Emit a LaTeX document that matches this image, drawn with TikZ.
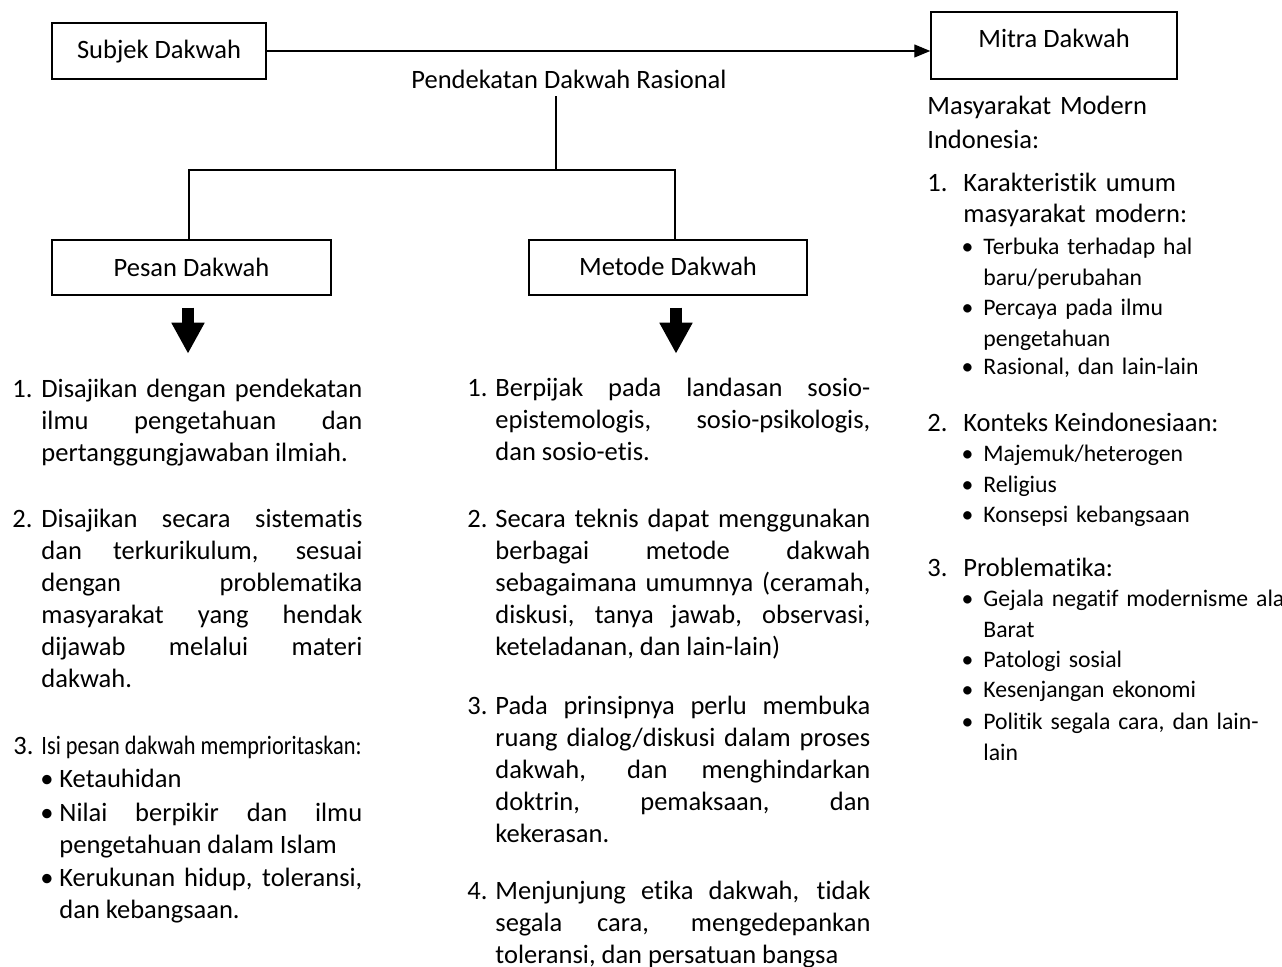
\documentclass[tikz,border=0pt]{standalone}
\usepackage{fontspec}
\setmainfont{Carlito}[Ligatures={TeX,NoCommon}]
\usepackage{graphicx}
\usetikzlibrary{arrows.meta, positioning, calc}
\newcommand{\bigtext}{\fontsize{13.25pt}{16pt}\selectfont}
\newcommand{\smalltext}{\fontsize{11.85pt}{15.25pt}\selectfont}
\tolerance=10000
\hyphenpenalty=10000
\hbadness=10000
\tikzstyle{box} = [rectangle, draw=black, line width=0.75pt, inner sep=0pt, font=\bigtext]
\tikzstyle{arrow} = [line width=0.6pt, -{Triangle[length=8pt,width=6.5pt]}]
\tikzstyle{line} = [line width=0.6pt]
\tikzstyle{blockarrow} = [line width=6pt, -{Triangle[length=15.5pt,width=15.5pt]}]
\tikzstyle{item} = [anchor=base west, inner sep=0pt, align=justify, font=\bigtext]
\tikzstyle{num} = [anchor=base west, inner sep=0pt, font=\bigtext]
\tikzstyle{dot} = [anchor=base, inner sep=0pt]
\tikzstyle{sub} = [anchor=base west, inner sep=0pt, align=left, text width=170pt, font=\smalltext]

\begin{document}
\begin{tikzpicture}[x=0.5pt, y=-0.5pt]
    \useasboundingbox (0,0) rectangle (1282,967);

    % top row
    \node (subjek) [box, minimum width=107pt, text height=18pt, text depth=10pt] at (159,51) {Subjek Dakwah};
    \node (mitra) [box, minimum width=123pt, text height=18pt, text depth=15.5pt] at (1054,45.5) {Mitra Dakwah};
    \node (pdr) [anchor=base, font=\bigtext] at (569,89) {Pendekatan Dakwah Rasional};

    \draw [arrow] (subjek.east) -- (subjek.east -| mitra.west);

    % second row
    \node (pesan) [box, minimum width=139.5pt, text height=18.5pt, text depth=9pt] at (191.5,267.5) {Pesan Dakwah};
    \node (metode) [box, minimum width=139pt, text height=18pt, text depth=9.5pt] at (668,267.5) {Metode Dakwah};

    \coordinate (split) at (556,170);
    \draw [line] (pdr.south -| split) -- (split);
    \draw [line] ([xshift=-1.25pt]pesan.north) |- (split) -| ([xshift=3.5pt]metode.north);

    \draw [blockarrow] ([xshift=-1.75pt,yshift=-6pt]pesan.south) -- ++(0,46);
    \draw [blockarrow] ([xshift=4pt,yshift=-6pt]metode.south) -- ++(0,46);

    % Pesan Dakwah
    \node (pn1) [num] at (12,398) {1.};
    \node (pt1) [item, text width=160.5pt] at (41,398) {Disajikan dengan pendekatan\linebreak ilmu pengetahuan dan\linebreak pertanggungjawaban ilmiah.};
    \node (pn2) [num] at (12,528) {2.};
    \node (pt2) [item, text width=160.5pt] at (41,528) {Disajikan secara sistematis\linebreak dan terkurikulum, sesuai\linebreak dengan problematika\linebreak masyarakat yang hendak\linebreak dijawab melalui materi\linebreak dakwah.};
    \node (pn3) [num] at (13,755) {3.};
    \node (pt3) [item] at (41,755) {\scalebox{0.8425}[1]{Isi pesan dakwah memprioritaskan:}};
    \node (pd1) [dot, font=\bigtext] at (47,788) {\textbullet};
    \node (pb1) [item, text width=151.5pt] at (59,788) {Ketauhidan};
    \node (pd2) [dot, font=\bigtext] at (47,822) {\textbullet};
    \node (pb2) [item, text width=151.5pt] at (59,822) {Nilai berpikir dan ilmu\linebreak pengetahuan dalam Islam};
    \node (pd3) [dot, font=\bigtext] at (47,887) {\textbullet};
    \node (pb3) [item, text width=151.5pt] at (59,887) {Kerukunan hidup, toleransi,\linebreak dan kebangsaan.};

    % Metode Dakwah
    \node (mn1) [num] at (467,397) {1.};
    \node (mt1) [item, text width=187.5pt] at (495,397) {Berpijak pada landasan sosio-\linebreak epistemologis, sosio-psikologis,\linebreak dan sosio-etis.};
    \node (mn2) [num] at (467,528) {2.};
    \node (mt2) [item, text width=187.5pt] at (495,528) {Secara teknis dapat menggunakan\linebreak berbagai metode dakwah\linebreak sebagaimana umumnya (ceramah,\linebreak diskusi, tanya jawab, observasi,\linebreak keteladanan, dan lain-lain)};
    \node (mn3) [num] at (467,715) {3.};
    \node (mt3) [item, text width=187.5pt] at (495,715) {Pada prinsipnya perlu membuka\linebreak ruang dialog/diskusi dalam proses\linebreak dakwah, dan menghindarkan\linebreak doktrin, pemaksaan, dan\linebreak kekerasan.};
    \node (mn4) [num] at (467,900) {4.};
    \node (mt4) [item, text width=187.5pt] at (495,900) {Menjunjung etika dakwah, tidak\linebreak segala cara, mengedepankan\linebreak toleransi, dan persatuan bangsa};

    % Mitra Dakwah
    \node (masy) [item, align=left, text width=170pt, font=\fontsize{13.25pt}{17pt}\selectfont] at (927,115) {Masyarakat Modern\\Indonesia:};
    \node (rn1) [num] at (927,192) {1.};
    \node (rt1) [item, align=left, text width=150pt, font=\fontsize{13.25pt}{15.5pt}\selectfont] at (963,192) {Karakteristik umum\\masyarakat modern:};
    \node (rd1) [dot, font=\smalltext] at (967.5,255) {\textbullet};
    \node (rb1) [sub] at (983,255) {Terbuka terhadap hal\\baru/perubahan};
    \node (rd2) [dot, font=\smalltext] at (967.5,316) {\textbullet};
    \node (rb2) [sub] at (983,316) {Percaya pada ilmu\\pengetahuan};
    \node (rd3) [dot, font=\smalltext] at (967.5,375) {\textbullet};
    \node (rb3) [sub] at (983,375) {Rasional, dan lain-lain};

    \node (rn2) [num] at (927,432) {2.};
    \node (rt2) [num] at (963,432) {Konteks Keindonesiaan:};
    \node (rd4) [dot, font=\smalltext] at (967.5,462) {\textbullet};
    \node (rb4) [sub] at (983,462) {Majemuk/heterogen};
    \node (rd5) [dot, font=\smalltext] at (967.5,493) {\textbullet};
    \node (rb5) [sub] at (983,493) {Religius};
    \node (rd6) [dot, font=\smalltext] at (967.5,523) {\textbullet};
    \node (rb6) [sub] at (983,523) {Konsepsi kebangsaan};

    \node (rn3) [num] at (927,577) {3.};
    \node (rt3) [num] at (963,577) {Problematika:};
    \node (rd7) [dot, font=\smalltext] at (967.5,607) {\textbullet};
    \node (rb7) [sub] at (983,607) {Gejala negatif modernisme ala\\Barat};
    \node (rd8) [dot, font=\smalltext] at (967.5,668) {\textbullet};
    \node (rb8) [sub] at (983,668) {Patologi sosial};
    \node (rd9) [dot, font=\smalltext] at (967.5,698) {\textbullet};
    \node (rb9) [sub] at (983,698) {Kesenjangan ekonomi};
    \node (rd10) [dot, font=\smalltext] at (967.5,730) {\textbullet};
    \node (rb10) [sub] at (983,730) {Politik segala cara, dan lain-\\lain};
\end{tikzpicture}
\end{document}
